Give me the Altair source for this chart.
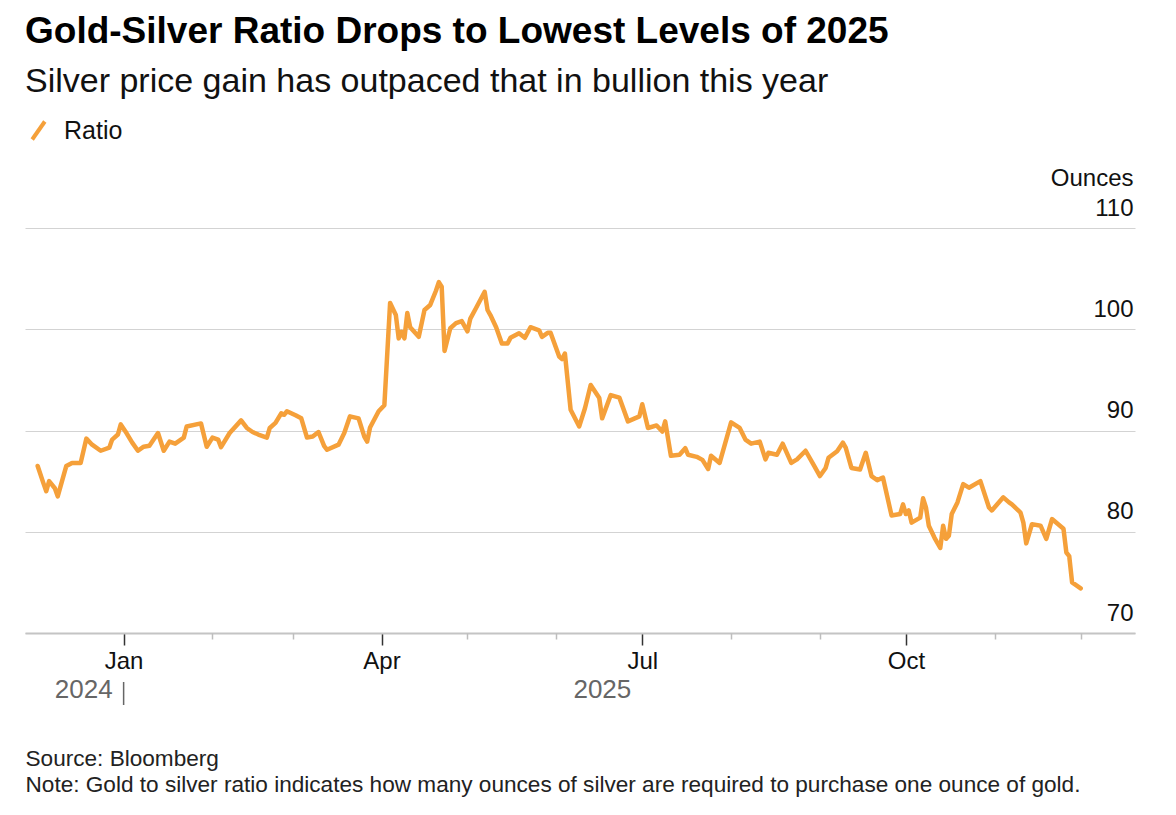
import altair as alt
import pandas as pd

FONT = "Liberation Sans"

dates = [
    "2024-12-02", "2024-12-04", "2024-12-05", "2024-12-06", "2024-12-08", "2024-12-09",
    "2024-12-12", "2024-12-14", "2024-12-17", "2024-12-19", "2024-12-21", "2024-12-24",
    "2024-12-27", "2024-12-28", "2024-12-30", "2024-12-31",
    "2025-01-02", "2025-01-04", "2025-01-06", "2025-01-08", "2025-01-10", "2025-01-13",
    "2025-01-15", "2025-01-17", "2025-01-19", "2025-01-22", "2025-01-23", "2025-01-28",
    "2025-01-30",
    "2025-02-01", "2025-02-03", "2025-02-04", "2025-02-07", "2025-02-11", "2025-02-13",
    "2025-02-15", "2025-02-17", "2025-02-20", "2025-02-21", "2025-02-23", "2025-02-25",
    "2025-02-26", "2025-02-27",
    "2025-03-02", "2025-03-04", "2025-03-06", "2025-03-08", "2025-03-10", "2025-03-12",
    "2025-03-13", "2025-03-17", "2025-03-19", "2025-03-21", "2025-03-24", "2025-03-26",
    "2025-03-27", "2025-03-28", "2025-03-31",
    "2025-04-02", "2025-04-04", "2025-04-06", "2025-04-07", "2025-04-08", "2025-04-09",
    "2025-04-10", "2025-04-11", "2025-04-14", "2025-04-16", "2025-04-18", "2025-04-20",
    "2025-04-21", "2025-04-22", "2025-04-23", "2025-04-25", "2025-04-27", "2025-04-29",
    "2025-05-01", "2025-05-02", "2025-05-04", "2025-05-07", "2025-05-08", "2025-05-09",
    "2025-05-11", "2025-05-13", "2025-05-15", "2025-05-16", "2025-05-19", "2025-05-21",
    "2025-05-23", "2025-05-26", "2025-05-27", "2025-05-29", "2025-05-30",
    "2025-06-02", "2025-06-03", "2025-06-04", "2025-06-06", "2025-06-09", "2025-06-11",
    "2025-06-13", "2025-06-16", "2025-06-17", "2025-06-20", "2025-06-23", "2025-06-26",
    "2025-06-30",
    "2025-07-01", "2025-07-03", "2025-07-06", "2025-07-08", "2025-07-09", "2025-07-11",
    "2025-07-14", "2025-07-16", "2025-07-17", "2025-07-20", "2025-07-22", "2025-07-24",
    "2025-07-25", "2025-07-28",
    "2025-08-01", "2025-08-04", "2025-08-06", "2025-08-08", "2025-08-11", "2025-08-13",
    "2025-08-14", "2025-08-17", "2025-08-19", "2025-08-22", "2025-08-24", "2025-08-27",
    "2025-08-30",
    "2025-09-01", "2025-09-03", "2025-09-04", "2025-09-07", "2025-09-09", "2025-09-10",
    "2025-09-12", "2025-09-15", "2025-09-17", "2025-09-19", "2025-09-21", "2025-09-23",
    "2025-09-26", "2025-09-29", "2025-09-30",
    "2025-10-01", "2025-10-02", "2025-10-03", "2025-10-06", "2025-10-07", "2025-10-08",
    "2025-10-09", "2025-10-11", "2025-10-13", "2025-10-14", "2025-10-15", "2025-10-16",
    "2025-10-17", "2025-10-19", "2025-10-21", "2025-10-23", "2025-10-27", "2025-10-30",
    "2025-10-31",
    "2025-11-04", "2025-11-06", "2025-11-07", "2025-11-10", "2025-11-11", "2025-11-12",
    "2025-11-14", "2025-11-17", "2025-11-19", "2025-11-21", "2025-11-25", "2025-11-26",
    "2025-11-27", "2025-11-28",
    "2025-12-01",
]

ratio = [
    86.5, 84.8, 84.0, 85.0, 84.3, 83.5, 86.5, 86.8, 86.8, 89.2, 88.6, 88.0, 88.3, 89.1, 89.6, 90.6,
    89.75, 88.8, 88.0, 88.4, 88.5, 89.75, 88.0, 88.9, 88.7, 89.3, 90.4, 90.7, 88.4,
    89.3, 89.1, 88.35, 89.75, 91.0, 90.25, 89.85, 89.6, 89.3, 90.25, 90.75, 91.7, 91.55, 91.9,
    91.5, 91.2, 89.3, 89.4, 89.85, 88.45, 88.1, 88.6, 89.75, 91.4, 91.2, 89.4, 88.9, 90.3, 91.9,
    92.5, 102.6, 101.4, 99.1, 99.75, 99.1, 101.6, 100.2, 99.25, 101.9, 102.4, 103.8, 104.65,
    104.2, 97.85, 100.1, 100.6, 100.8,
    99.8, 101.05, 102.1, 103.7, 101.9, 101.4, 100.2, 98.6, 98.6, 99.15, 99.6, 99.15, 100.2,
    99.9, 99.25, 99.65, 99.65,
    97.3, 97.05, 97.6, 92.05, 90.4, 92.2, 94.5, 93.2, 91.2, 93.5, 93.25, 90.9, 91.4,
    92.6, 90.25, 90.5, 89.9, 90.9, 87.5, 87.6, 88.25, 87.6, 87.4, 87.1, 86.2, 87.5, 86.8,
    90.8, 90.25, 89.1, 88.7, 88.9, 87.15, 87.8, 87.6, 88.7, 86.8, 87.15, 88.0, 86.5,
    85.5, 86.3, 87.3, 87.95, 88.8, 88.3, 86.3, 86.15, 87.8, 85.5, 85.1, 85.35, 81.6, 81.75, 82.7,
    81.75, 82.1, 80.9, 81.4, 83.3, 82.4, 80.6, 79.4, 78.4, 80.6, 79.3, 79.6, 81.75, 82.9, 84.7,
    84.35, 85.0, 82.4, 82.1,
    83.4, 82.9, 82.7, 81.9, 80.9, 78.85, 80.75, 80.6, 79.3, 81.25, 80.3, 77.95, 77.6, 75.0,
    74.4,
]

series_name = ["Ratio"]
quarter_ticks = ["2025-01-01", "2025-04-01", "2025-07-01", "2025-10-01"]
month_ticks = ["2025-02-01", "2025-03-01", "2025-05-01", "2025-06-01",
               "2025-08-01", "2025-09-01", "2025-11-01", "2025-12-01"]
year_labels = ["2024", "2025"]
year_label_dates = ["2025-01-01", "2025-07-01"]
year_separator = ["2025-01-01"]
y_ticks = [70, 80, 90, 100, 110]
y_domain = [70, 110]

title_text = "Gold-Silver Ratio Drops to Lowest Levels of 2025"
subtitle_text = "Silver price gain has outpaced that in bullion this year"
footnotes = [
    "Source: Bloomberg",
    "Note: Gold to silver ratio indicates how many ounces of silver are required to purchase one ounce of gold.",
]


def dt(s, hours=0):
    y, m, d = (int(p) for p in s.split("-"))
    return alt.DateTime(year=y, month=m, date=d, hours=hours)


df = pd.DataFrame({"date": pd.to_datetime(dates), "ratio": ratio, "series": series_name[0]})
years_df = pd.DataFrame({"date": pd.to_datetime(year_label_dates), "label": year_labels})
sep_df = pd.DataFrame({"date": pd.to_datetime(year_separator)})

x_scale = alt.Scale(domain=[dt("2024-11-27", 14), dt("2025-12-19", 23)])
ORANGE = "#F5A03A"

line = alt.Chart(df).mark_line(strokeWidth=4.5, strokeJoin="round", strokeCap="round").encode(
    x=alt.X(
        "date:T",
        scale=x_scale,
        axis=alt.Axis(
            orient="bottom",
            values=[dt(s) for s in quarter_ticks],
            format="%b",
            tickSize=12, tickWidth=1.5, tickColor="#333333",
            domainColor="#C4C4C4", domainWidth=2,
            labelFontSize=24, labelColor="#111111", labelPadding=4, labelFont=FONT,
            labelFlush=False,
            grid=False,
            title=footnotes,
            titleFont=FONT, titleFontSize=22.6, titleFontWeight="normal", titleColor="#222222",
            titleAnchor="start", titleAlign="left", titleBaseline="top",
            titleX=0, titleY=114, titleLineHeight=26,
        ),
    ),
    y=alt.Y(
        "ratio:Q",
        scale=alt.Scale(domain=y_domain, nice=False, zero=False),
        axis=alt.Axis(
            orient="right", values=y_ticks,
            grid=True, gridColor="#D3D3D3", gridWidth=1,
            domain=False, ticks=False, tickSize=0,
            labelAlign="right", labelPadding=-2, labelBaseline="alphabetic", labelOffset=-13,
            labelFontSize=24, labelColor="#111111", labelFont=FONT,
            title="Ounces", titleAngle=0, titleAlign="right", titleBaseline="alphabetic",
            titleX=-2, titleY=-43, titleFontSize=24, titleFontWeight="normal",
            titleColor="#111111", titleFont=FONT,
        ),
    ),
    color=alt.Color(
        "series:N",
        scale=alt.Scale(domain=series_name, range=[ORANGE]),
        legend=alt.Legend(
            orient="none", legendX=1, legendY=-110, title=None,
            symbolType="M-0.7,1L0.7,-1", symbolSize=324, symbolStrokeWidth=4,
            labelFontSize=25, labelFont=FONT, labelColor="#111111", labelOffset=13,
            padding=0,
        ),
    ),
)

years = alt.Chart(years_df).mark_text(
    align="right", baseline="middle", dx=-11, fontSize=26, font=FONT, color="#666666"
).encode(
    x=alt.X(
        "date:T",
        scale=x_scale,
        axis=alt.Axis(
            orient="bottom",
            values=[dt(s) for s in month_ticks],
            labels=False, domain=False, grid=False,
            tickSize=6, tickColor="#BDBDBD", tickWidth=1.5, title=None,
        ),
    ),
    y=alt.value(462),
    text="label:N",
)

sep = alt.Chart(sep_df).mark_rule(color="#666666", strokeWidth=1.5).encode(
    x=alt.X("date:T", scale=x_scale, axis=None),
    y=alt.value(454),
    y2=alt.value(477),
)

chart = alt.layer(line, years, sep).resolve_axis(x="independent").properties(
    width=1110,
    height=405,
    autosize=alt.AutoSizeParams(type="none"),
    padding={"left": 17, "top": 220, "right": 30, "bottom": 172},
    title=alt.TitleParams(
        text=title_text,
        subtitle=subtitle_text,
        anchor="start", frame="group", orient="top", offset=18,
        font=FONT, fontSize=37, fontWeight="bold", color="#000000",
        subtitleFont=FONT, subtitleFontSize=34, subtitleColor="#111111",
        subtitlePadding=14,
    ),
).configure(
    background="white", font=FONT
).configure_view(stroke=None)

chart.save("out.html", embed_options={"renderer": "svg", "actions": False})
